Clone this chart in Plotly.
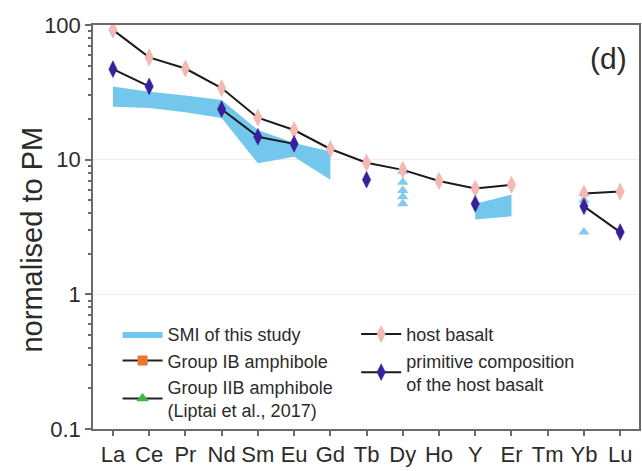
import plotly.graph_objects as go

elements = ["La", "Ce", "Pr", "Nd", "Sm", "Eu", "Gd", "Tb", "Dy", "Ho", "Y", "Er", "Tm", "Yb", "Lu"]

host_basalt = [92, 57.5, 47.5, 34, 20.5, 16.6, 12.0, 9.5, 8.4, 6.95, 6.1, 6.5, None, 5.6, 5.8]
primitive = [47, 35, None, 23.7, 14.8, 13.1, None, 7.1, None, None, 4.7, None, None, 4.5, 2.9]

# SMI band (upper / lower envelopes)
band1_x = ["La", "Ce", "Pr", "Nd", "Sm", "Eu", "Gd"]
band1_upper = [35, 32, 30, 27.7, 16.6, 13.3, 11.5]
band1_lower = [24.7, 24.2, 22.5, 20.4, 9.4, 10.5, 7.1]
band2_x = ["Y", "Er"]
band2_upper = [4.7, 5.5]
band2_lower = [3.6, 3.8]

# SMI single analyses (triangles)
smi_tri_x = ["Dy", "Dy", "Dy", "Dy", "Dy", "Yb", "Yb", "Yb"]
smi_tri_y = [8.2, 6.8, 5.9, 5.3, 4.7, 5.6, 5.0, 2.9]

FONT = "Arial, Liberation Sans, sans-serif"
TXT = "#2b2b2b"
AX = "#6a6a6a"
BAND = "#74c7ec"

fig = go.Figure()

# SMI bands
fig.add_trace(go.Scatter(
    x=band1_x + band1_x[::-1], y=band1_upper + band1_lower[::-1],
    mode="lines", fill="toself", fillcolor=BAND, line=dict(width=0, color=BAND),
    name="SMI of this study", legend="legend", legendgroup="smi", showlegend=True))
fig.add_trace(go.Scatter(
    x=band2_x + band2_x[::-1], y=band2_upper + band2_lower[::-1],
    mode="lines", fill="toself", fillcolor=BAND, line=dict(width=0, color=BAND),
    legendgroup="smi", showlegend=False))
fig.add_trace(go.Scatter(
    x=smi_tri_x, y=smi_tri_y, mode="markers",
    marker=dict(symbol="triangle-up", size=10, color="rgba(90,185,232,0.75)", line=dict(width=0)),
    legendgroup="smi", showlegend=False))

# amphibole groups (legend only)
fig.add_trace(go.Scatter(
    x=[None], y=[None], mode="lines+markers", name="Group IB amphibole",
    line=dict(color="#222222", width=2),
    marker=dict(symbol="square", size=10, color="#e8782a"), legend="legend"))
fig.add_trace(go.Scatter(
    x=[None], y=[None], mode="lines+markers", name="Group IIB amphibole<br>(Liptai et al., 2017)",
    line=dict(color="#222222", width=2),
    marker=dict(symbol="triangle-up", size=11, color="#3cb44b"), legend="legend"))

# host basalt
fig.add_trace(go.Scatter(
    x=elements, y=host_basalt, mode="lines+markers", name="host basalt",
    connectgaps=False, line=dict(color="#1a1a1a", width=2),
    marker=dict(symbol="diamond-tall", size=12, color="#f5b9b4", line=dict(color="#eaa2a0", width=0.5)),
    legend="legend2"))

# primitive composition
fig.add_trace(go.Scatter(
    x=elements, y=primitive, mode="lines+markers", name="primitive composition<br>of the host basalt",
    connectgaps=False, line=dict(color="#1a1a1a", width=2),
    marker=dict(symbol="diamond-tall", size=12, color="#3a1f9c", line=dict(color="#3a1f9c", width=0.5)),
    legend="legend2"))

fig.update_layout(
    width=642, height=471,
    margin=dict(l=93, r=1, t=25, b=42),
    paper_bgcolor="white", plot_bgcolor="white",
    font=dict(family=FONT, color=TXT),
    legend=dict(x=0.045, y=0.28, xanchor="left", yanchor="top",
                bgcolor="rgba(0,0,0,0)", font=dict(size=18, color=TXT, family=FONT),
                itemwidth=40, tracegroupgap=0),
    legend2=dict(x=0.482, y=0.28, xanchor="left", yanchor="top",
                 bgcolor="rgba(0,0,0,0)", font=dict(size=18, color=TXT, family=FONT),
                 itemwidth=40, tracegroupgap=0),
    xaxis=dict(type="category", categoryorder="array", categoryarray=elements,
               range=[-0.55, 14.52], showgrid=False, zeroline=False,
               showline=True, linecolor=AX, linewidth=1.5, mirror=True,
               ticks="outside", ticklen=5, tickcolor=AX, tickwidth=1.5,
               tickfont=dict(size=22, color=TXT, family=FONT)),
    yaxis=dict(type="log", range=[-1, 2], showgrid=True, gridcolor="rgba(235,190,190,0.35)",
               tickvals=[0.1, 1, 10, 100], ticktext=["0.1", "1", "10", "100"],
               zeroline=False, showline=True, linecolor=AX, linewidth=1.5, mirror=True,
               ticks="outside", ticklen=6, tickcolor=AX, tickwidth=1.5,
               minor=dict(ticks="outside", ticklen=3, tickcolor=AX, dtick="D1", showgrid=False),
               tickfont=dict(size=22, color=TXT, family=FONT)),
    annotations=[
        dict(text="(d)", x=0.982, y=0.916, xref="paper", yref="paper",
             xanchor="right", yanchor="middle", showarrow=False,
             font=dict(size=30, color=TXT, family=FONT)),
        dict(text="normalised to PM", x=-0.111, y=0.47, xref="paper", yref="paper",
             xanchor="center", yanchor="middle", textangle=-90, showarrow=False,
             font=dict(size=29, color=TXT, family=FONT)),
    ],
)

fig.write_html("out.html")
